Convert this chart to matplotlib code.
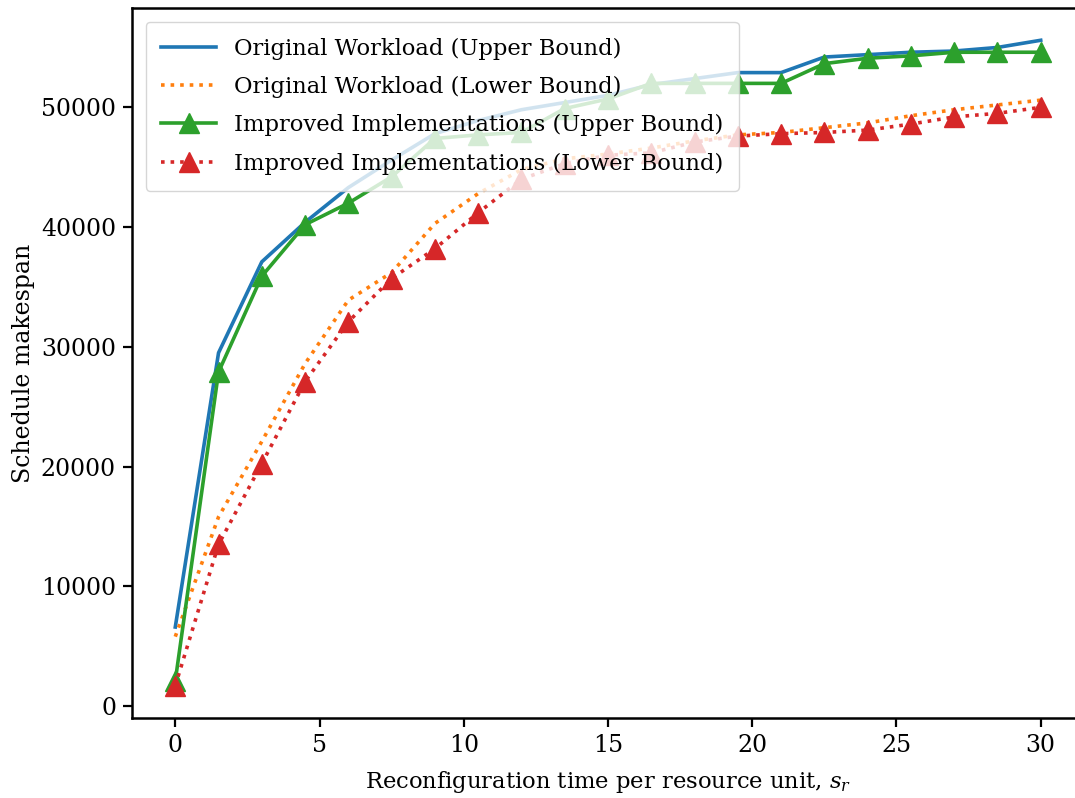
import matplotlib
matplotlib.use("Agg")
import matplotlib.pyplot as plt

# reconfiguration time per resource unit (s_r)
s_r = [0, 1.5, 3, 4.5, 6, 7.5, 9, 10.5, 12, 13.5, 15,
       16.5, 18, 19.5, 21, 22.5, 24, 25.5, 27, 28.5, 30]

orig_upper = [6600, 29500, 37100, 40400, 43300, 45600, 47800, 48900, 49800, 50400, 51000,
              51900, 52400, 52900, 52900, 54200, 54400, 54600, 54700, 55000, 55600]
orig_lower = [5800, 15800, 22100, 28600, 33900, 36200, 40300, 42800, 44800, 45700, 46100,
              46600, 47200, 47700, 47900, 48300, 48700, 49300, 49800, 50200, 50600]
impr_upper = [2100, 27900, 35900, 40200, 42000, 44200, 47400, 47700, 47900, 49900, 50700,
              52000, 52000, 52000, 52000, 53650, 54100, 54300, 54600, 54600, 54600]
impr_lower = [1700, 13500, 20250, 27100, 32100, 35700, 38200, 41200, 44000, 45300, 46000,
              46200, 47100, 47600, 47800, 47900, 48100, 48600, 49200, 49500, 50000]

labels = [
    "Original Workload (Upper Bound)",
    "Original Workload (Lower Bound)",
    "Improved Implementations (Upper Bound)",
    "Improved Implementations (Lower Bound)",
]

plt.rcParams["font.family"] = ["DejaVu Serif"]
plt.rcParams["mathtext.fontset"] = "dejavuserif"
plt.rcParams["font.size"] = 17

fig = plt.figure(figsize=(10.75, 7.98), dpi=100)
ax = fig.add_axes([132 / 1075, 80 / 798, 952 / 1075, 710 / 798])

lw = 2.6
ms = 14
ax.plot(s_r, orig_upper, color="tab:blue", lw=lw, label=labels[0])
ax.plot(s_r, orig_lower, color="tab:orange", lw=lw, ls=":", label=labels[1])
ax.plot(s_r, impr_upper, color="tab:green", lw=lw, marker="^", ms=ms, label=labels[2])
ax.plot(s_r, impr_lower, color="tab:red", lw=lw, ls=":", marker="^", ms=ms, label=labels[3])

ax.set_xlabel("Reconfiguration time per resource unit, $s_r$", fontsize=16.3, labelpad=9)
ax.set_ylabel("Schedule makespan")
ax.set_xticks([0, 5, 10, 15, 20, 25, 30])
ax.set_yticks([0, 10000, 20000, 30000, 40000, 50000])
ax.set_xlim(-1.5, 31.5)

ax.spines["right"].set_visible(False)
for side in ["left", "bottom", "top"]:
    ax.spines[side].set_linewidth(1.8)
ax.tick_params(width=1.6, length=6.5, pad=5)

ax.legend(loc="upper left", fontsize=16.3, labelspacing=0.72, handlelength=2.4,
          handletextpad=0.8, borderpad=0.7, borderaxespad=0.6)

fig.savefig("out.png", dpi=100)
